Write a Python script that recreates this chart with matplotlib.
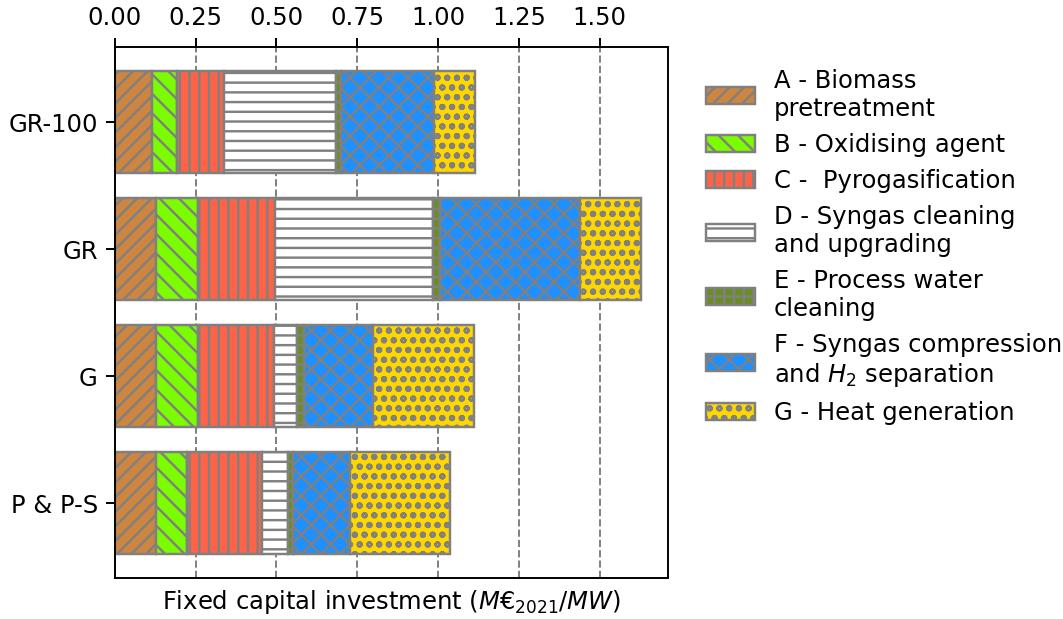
import matplotlib
matplotlib.use("Agg")
import matplotlib.pyplot as plt
import numpy as np

cases = ["GR-100", "GR", "G", "P & P-S"]

labels = ["A - Biomass\npretreatment",
          "B - Oxidising agent",
          "C -  Pyrogasification",
          "D - Syngas cleaning\nand upgrading",
          "E - Process water\ncleaning",
          "F - Syngas compression\nand $H_2$ separation",
          "G - Heat generation"]

# M€2021/MW per section, one list per section, order = cases
A = [0.114, 0.129, 0.129, 0.129]
B = [0.077, 0.127, 0.127, 0.094]
C = [0.148, 0.241, 0.236, 0.232]
D = [0.346, 0.488, 0.071, 0.081]
E = [0.014, 0.022, 0.022, 0.016]
F = [0.290, 0.434, 0.214, 0.177]
G = [0.127, 0.188, 0.313, 0.309]

colors = ["peru", "lawngreen", "tomato", "white", "olivedrab", "dodgerblue", "gold"]
hatches = ["////", "\\\\\\", "|||", "---", "+++", "xxx", "ooo"]

fig = plt.figure(figsize=(1063 / 175, 619 / 175), dpi=175)
ax = fig.add_axes([0.108, 0.066, 0.520, 0.858])

y = np.arange(len(cases))
left = np.zeros(len(cases))
for vals, lab, col, h in zip([A, B, C, D, E, F, G], labels, colors, hatches):
    ax.barh(y, vals, left=left, height=0.8, color=col, edgecolor="grey",
            hatch=h, label=lab, linewidth=1.0)
    left += np.array(vals)

ax.set_yticks(y)
ax.set_yticklabels(cases)
ax.invert_yaxis()
ax.xaxis.tick_top()
ax.set_xticks([0, 0.25, 0.5, 0.75, 1.0, 1.25, 1.5])
ax.set_xlabel("Fixed capital investment ($M€_{2021}/MW$)")
ax.set_axisbelow(True)
ax.grid(axis="x", linestyle="--", color="grey")

ax.legend(loc="upper left", bbox_to_anchor=(1.03, 1.0), frameon=False)

fig.savefig("out.png", dpi=175)
